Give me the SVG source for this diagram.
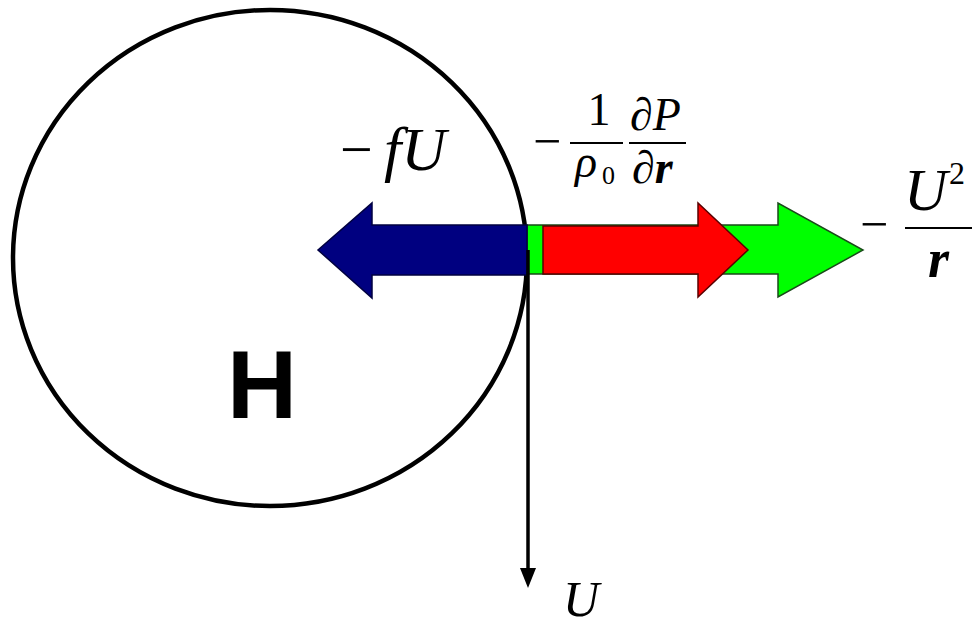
<svg xmlns="http://www.w3.org/2000/svg" width="972" height="629" viewBox="0 0 972 629">
<style>
.m{font-family:"Liberation Serif","Times New Roman",serif;fill:#000}
.i{font-style:italic}
.b{font-weight:bold}
.bar{stroke:#000;stroke-width:2}
</style>
<rect width="972" height="629" fill="#fff"/>
<g id="circle">
<ellipse cx="270" cy="258" rx="257" ry="248" fill="none" stroke="#000" stroke-width="4.5"/>
<text x="262" y="418" font-family="Liberation Sans, Arial, sans-serif" font-weight="bold" font-size="97" text-anchor="middle">H</text>
</g>
<g id="connectors">
<g id="green-arrow">
<polygon points="527,225 778,225 778,203 863,250 778,297 778,274 527,274" fill="#00ff00" stroke="#1a4a1a" stroke-width="1.5"/>
</g>
<g id="red-arrow">
<polygon points="543,226 698,226 698,203 748,250 698,297 698,274 543,274" fill="#ff0000" stroke="#5a0000" stroke-width="1.5"/>
</g>
<g id="blue-arrow">
<polygon points="527,225 372,225 372,203 318,250 372,298 372,275 527,275" fill="#000080" stroke="#000040" stroke-width="1.5"/>
</g>
<g id="velocity-arrow">
<line x1="528" y1="250" x2="528" y2="572" stroke="#000" stroke-width="3.5"/>
<polygon points="520,568 536,568 528,588" fill="#000"/>
</g>
</g>
<g id="label-fU">
<text class="m" x="340" y="169" font-size="58">−</text>
<text class="m i" x="384" y="170" font-size="62">fU</text>
</g>
<g id="label-pressure">
<text class="m" x="533" y="158" font-size="50">−</text>
<line class="bar" x1="570" y1="143" x2="623" y2="143"/>
<text class="m" x="599" y="125" font-size="46" text-anchor="middle">1</text>
<text class="m i" x="575" y="177" font-size="46">ρ</text>
<text class="m" x="602" y="184" font-size="26">0</text>
<line class="bar" x1="629" y1="143" x2="686" y2="143"/>
<text class="m i" x="630" y="130" font-size="46">∂P</text>
<text class="m i" x="632" y="183" font-size="46">∂<tspan class="b">r</tspan></text>
</g>
<g id="label-centrifugal">
<text class="m" x="860" y="241" font-size="50">−</text>
<line class="bar" x1="905" y1="228" x2="972" y2="228"/>
<text class="m i" x="904" y="210" font-size="60">U</text>
<text class="m" x="949" y="184" font-size="32">2</text>
<text class="m i b" x="928" y="277" font-size="54">r</text>
</g>
<g id="label-U">
<text class="m i" x="563" y="616" font-size="50">U</text>
</g>
</svg>
